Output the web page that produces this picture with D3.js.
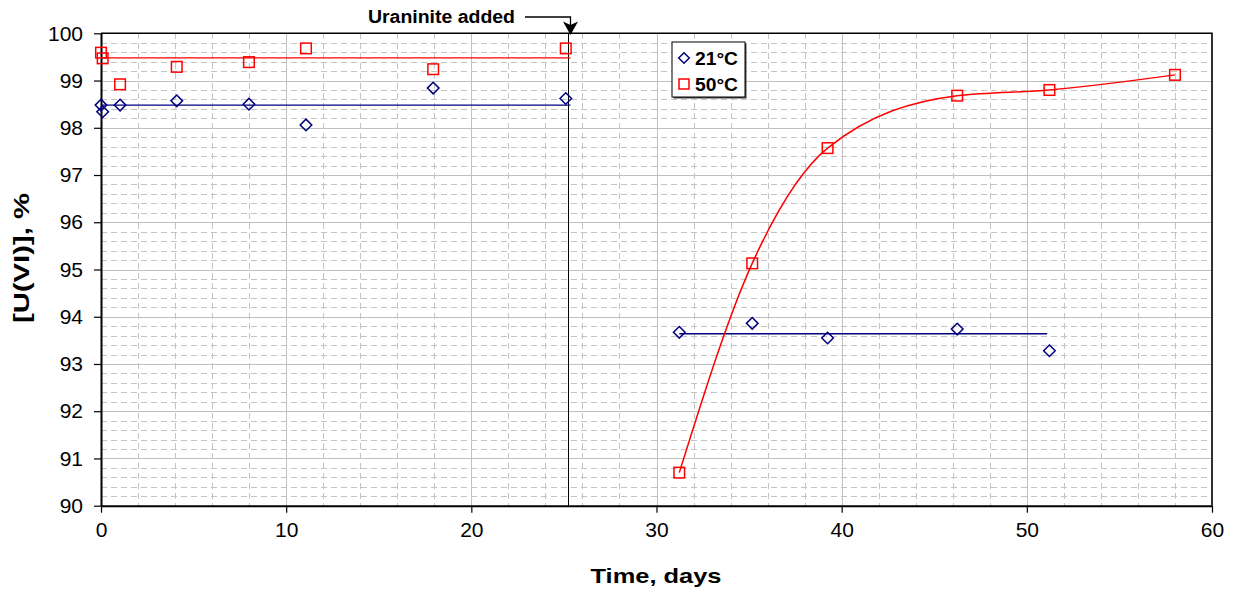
<!DOCTYPE html>
<html>
<head>
<meta charset="utf-8">
<script src="https://cdn.jsdelivr.net/npm/d3@7"></script>
<style>
  html, body { margin: 0; padding: 0; background: #fff; }
  svg { display: block; font-family: "Liberation Sans", Arial, sans-serif; }
</style>
</head>
<body>
<svg id="chart" width="1234" height="592"></svg>
<script>
// Time (days) and [U(VI)] (%) for the two temperatures
const days21 = [0, 0.09, 1.03, 4.09, 7.99, 11.07, 17.94, 25.1, 31.23, 35.17, 39.24, 46.24, 51.22];
const u21    = [98.48, 98.34, 98.48, 98.57, 98.5, 98.06, 98.84, 98.62, 93.67, 93.86, 93.55, 93.74, 93.28];

const days50 = [0, 0.09, 1.03, 4.09, 7.99, 11.07, 17.94, 25.1, 31.23, 35.17, 39.24, 46.24, 51.22, 58.0];
const u50    = [99.59, 99.47, 98.92, 99.29, 99.39, 99.68, 99.24, 99.68, 90.7, 95.13, 97.57, 98.68, 98.8, 99.12];

// Mean levels drawn as flat lines: [start day, end day, value]
const mean21Before = [0, 25.35, 98.48];
const mean50Before = [0, 25.35, 99.48];
const mean21After  = [31.23, 51.1, 93.64];

// The 50°C recovery after uraninite addition is drawn as a smoothed line
const recoveryStart = 8; // index into days50 / u50

const uraniniteDay = 25.24;
const xTicks = [0, 10, 20, 30, 40, 50, 60];
const yTicks = [90, 91, 92, 93, 94, 95, 96, 97, 98, 99, 100];
const legendLabels = ["21°C", "50°C"];

const svg = d3.select("#chart");
const plot = { left: 101, right: 1212, top: 33.3, bottom: 505.7 };

const x = d3.scaleLinear().domain([0, 60]).range([plot.left, plot.right]);
const y = d3.scaleLinear().domain([90, 100]).range([plot.bottom, plot.top]);

const grid = svg.append("g").attr("shape-rendering", "crispEdges");

// minor dashed grid: every 0.2 % and every 2 days
const minorY = d3.range(90.2, 100, 0.2).filter(v => Math.abs(v - Math.round(v)) > 0.01);
const minorX = d3.range(2, 60, 2).filter(v => v % 10 !== 0);
grid.selectAll(".my").data(minorY).join("line")
  .attr("x1", plot.left).attr("x2", plot.right)
  .attr("y1", d => Math.round(y(d)) + 0.5).attr("y2", d => Math.round(y(d)) + 0.5)
  .attr("stroke", "#c4c4c4").attr("stroke-width", 1).attr("stroke-dasharray", "6,4");
grid.selectAll(".mx").data(minorX).join("line")
  .attr("y1", plot.top).attr("y2", plot.bottom)
  .attr("x1", d => Math.round(x(d)) + 0.5).attr("x2", d => Math.round(x(d)) + 0.5)
  .attr("stroke", "#c4c4c4").attr("stroke-width", 1).attr("stroke-dasharray", "6,4");

// major solid grid
grid.selectAll(".gy").data(yTicks.slice(1, -1)).join("line")
  .attr("x1", plot.left).attr("x2", plot.right)
  .attr("y1", d => Math.round(y(d)) + 0.5).attr("y2", d => Math.round(y(d)) + 0.5)
  .attr("stroke", "#c0c0c0").attr("stroke-width", 1);
grid.selectAll(".gx").data(xTicks.slice(1, -1)).join("line")
  .attr("y1", plot.top).attr("y2", plot.bottom)
  .attr("x1", d => Math.round(x(d)) + 0.5).attr("x2", d => Math.round(x(d)) + 0.5)
  .attr("stroke", "#c0c0c0").attr("stroke-width", 1);

// plot frame (top and right)
svg.append("path")
  .attr("d", `M${plot.left},${plot.top}H${plot.right}V${plot.bottom}`)
  .attr("fill", "none").attr("stroke", "#000").attr("stroke-width", 1.6);

// axes
const xAxis = svg.append("g")
  .attr("transform", `translate(0,${plot.bottom})`)
  .call(d3.axisBottom(x).tickValues(xTicks).tickSize(7).tickPadding(9).tickSizeOuter(0));
const yAxis = svg.append("g")
  .attr("transform", `translate(${plot.left},0)`)
  .call(d3.axisLeft(y).tickValues(yTicks).tickSize(7).tickPadding(11).tickSizeOuter(0));
[xAxis, yAxis].forEach(a => {
  a.select(".domain").attr("stroke", "#000").attr("stroke-width", 2);
  a.selectAll(".tick line").attr("stroke", "#000").attr("stroke-width", 1.2);
  a.selectAll(".tick text").attr("font-size", 21).attr("fill", "#000")
    .attr("font-family", "'Liberation Sans', Arial, sans-serif");
});

// axis titles
svg.append("text")
  .attr("x", 656).attr("y", 583)
  .attr("text-anchor", "middle")
  .attr("font-size", 21).attr("font-weight", "bold")
  .attr("textLength", 131).attr("lengthAdjust", "spacingAndGlyphs")
  .text("Time, days");
svg.append("text")
  .attr("transform", "translate(29,258) rotate(-90)")
  .attr("text-anchor", "middle")
  .attr("font-size", 22).attr("font-weight", "bold")
  .attr("textLength", 130).attr("lengthAdjust", "spacingAndGlyphs")
  .text("[U(VI)], %");

// uraninite addition marker
const xu = Math.round(x(uraniniteDay)) + 0.5;
svg.append("line")
  .attr("x1", xu).attr("x2", xu).attr("y1", plot.top).attr("y2", plot.bottom)
  .attr("stroke", "#000").attr("stroke-width", 1);
const ax = xu + 2;
svg.append("path")
  .attr("d", `M525,17H${ax}V26`)
  .attr("fill", "none").attr("stroke", "#000").attr("stroke-width", 1.3);
svg.append("path")
  .attr("d", `M${ax},35L${ax - 7.5},21.5L${ax},25L${ax + 7.5},21.5Z`)
  .attr("fill", "#000");
svg.append("text")
  .attr("x", 515).attr("y", 23)
  .attr("text-anchor", "end")
  .attr("font-size", 18).attr("font-weight", "bold")
  .attr("textLength", 147).attr("lengthAdjust", "spacingAndGlyphs")
  .text("Uraninite added");

// mean lines
const flat = (m, color) => svg.append("line")
  .attr("x1", x(m[0])).attr("x2", x(m[1]))
  .attr("y1", y(m[2])).attr("y2", y(m[2]))
  .attr("stroke", color).attr("stroke-width", 1.4);
flat(mean50Before, "#ff0000");
flat(mean21Before, "#000080");
flat(mean21After, "#000080");

// smoothed recovery line at 50°C
const rec = d3.range(recoveryStart, days50.length).map(i => [days50[i], u50[i]]);
svg.append("path")
  .datum(rec)
  .attr("d", d3.line().x(d => x(d[0])).y(d => y(d[1])).curve(d3.curveMonotoneX))
  .attr("fill", "none").attr("stroke", "#ff0000").attr("stroke-width", 1.5);

// markers
const diamond = s => `M0,${-s}L${s},0L0,${s}L${-s},0Z`;
svg.append("g").selectAll("path").data(d3.range(days21.length)).join("path")
  .attr("transform", i => `translate(${x(days21[i])},${y(u21[i])})`)
  .attr("d", diamond(5.8))
  .attr("fill", "none").attr("stroke", "#000080").attr("stroke-width", 1.5);
svg.append("g").selectAll("rect").data(d3.range(days50.length)).join("rect")
  .attr("x", i => x(days50[i]) - 5.3).attr("y", i => y(u50[i]) - 5.3)
  .attr("width", 10.6).attr("height", 10.6)
  .attr("fill", "none").attr("stroke", "#ff0000").attr("stroke-width", 1.5);

// legend
const lg = svg.append("g").attr("transform", "translate(672,42)");
lg.append("rect").attr("x", 1.5).attr("y", 1.5).attr("width", 73).attr("height", 55).attr("fill", "#444");
lg.append("rect").attr("x", 0).attr("y", 0).attr("width", 73).attr("height", 55)
  .attr("fill", "#fff").attr("stroke", "#000").attr("stroke-width", 1);
lg.append("path").attr("transform", "translate(12,16)").attr("d", diamond(5.3))
  .attr("fill", "none").attr("stroke", "#000080").attr("stroke-width", 1.5);
lg.append("rect").attr("x", 7).attr("y", 37).attr("width", 10).attr("height", 10)
  .attr("fill", "none").attr("stroke", "#ff0000").attr("stroke-width", 1.5);
lg.selectAll("text").data(legendLabels).join("text")
  .attr("x", 23).attr("y", (d, i) => 23 + i * 26)
  .attr("font-size", 18).attr("font-weight", "bold")
  .attr("textLength", 43).attr("lengthAdjust", "spacingAndGlyphs")
  .text(d => d);
</script>
</body>
</html>
